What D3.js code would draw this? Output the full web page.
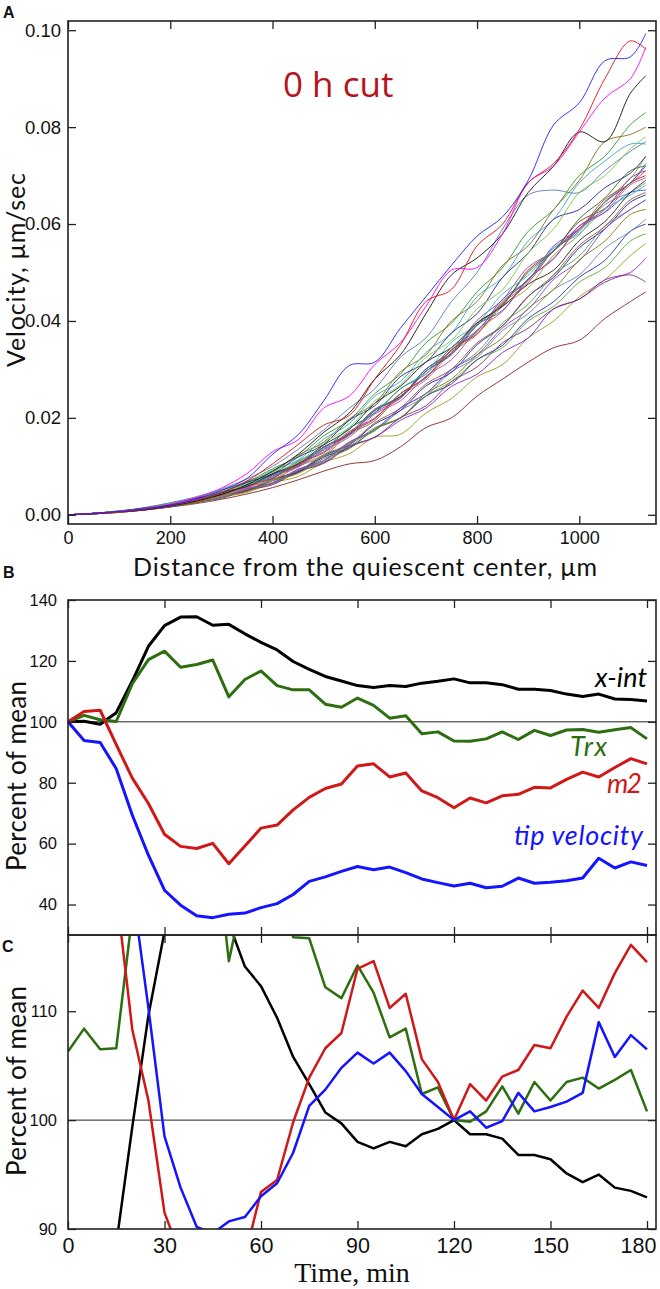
<!DOCTYPE html>
<html><head><meta charset="utf-8">
<script src="https://cdn.jsdelivr.net/npm/d3@7"></script>
<style>body{margin:0;background:#fff}svg{display:block}</style>
</head><body>
<svg id="chart" width="660" height="1289"></svg>
<script>
// ---------------- Panel A data (velocity in 1e-3 µm/sec) ----------------
const distance = [0,50,100,150,200,250,300,350,400,450,500,550,600,650,700,750,800,850,900,950,1000,1050,1100,1130];
const velTicks = [0,0.02,0.04,0.06,0.08,0.10];
const distTicks = [0,200,400,600,800,1000];

const vBlueTop    = [0,.3,.7,1.2,2.0,3.2,5.0,7.5,12.5,16.5,23.5,30.8,31.5,38.5,45,51.5,57.5,61.5,69,80.5,85,93.7,94.5,99.3];
const vRedTop     = [0,.3,.6,1.1,2.0,3.0,4.6,7,10.5,14.5,18.5,20.5,28,35,44,46.5,55.5,60,68.5,72.5,79.5,90,97.8,96.1];
const vMagentaTop = [0,.3,.7,1.3,2.2,3.5,5.5,8.5,13,15.5,22,24.5,31,35.5,43,50.5,51,58,68.5,72,79,86,90,96.5];
const vBlackTop   = [0,.2,.6,1.0,1.8,2.8,4.2,6.2,9,12.5,17,21,28,33,41.5,49.5,53,58,66.5,72,79,77,87,90.6];
const vH1 = [0,.3,.8,1.5,2.5,3.7,5.3,7.4,10,13.5,17.5,22,26,32.5,36.5,44,50,59,66,67,66.5,71,75,77];
const vH2 = [0,.3,.8,1.4,2.4,3.4,5.1,6.8,9.5,12,16.3,19.5,25,29,35.5,39.5,46,51,58.5,63,70,74,80.5,83];
const vH3 = [0,.3,.7,1.4,2.2,3.5,4.7,6.9,8.8,12.3,15,19.8,23,29.5,33,40,44,51.5,55.5,63,69,77,78.5,80];
const vH4 = [0,.3,.8,1.3,2.4,3.3,5.1,6.5,9.2,11.3,15.6,18.8,24.5,27.5,33.5,37.5,45,49,56.5,61,68.5,73,76.5,76.5];
const vH5 = [0,.3,.7,1.4,2.1,3.4,4.5,6.7,8.4,11.9,14.5,19.5,22.5,28.5,31.5,37.5,41.5,49,54,61,63,67.5,70.5,74];
const vH6 = [0,.3,.7,1.2,2.3,3.1,4.8,6.1,8.8,10.8,14.9,18,23.5,26.8,32.5,36,42.5,46.5,54,59,66.5,70,75.5,78];
const vM1 = [0,.2,.6,1.2,1.9,3.1,4.0,6.0,7.5,10.6,12.8,16.9,19.8,25,28.2,34,37.8,44.5,48.5,55.5,59,64.5,68.5,72];
const vM2 = [0,.3,.7,1.3,2.2,3.0,4.6,5.8,8.3,10.1,13.9,16.5,21.5,24.2,30,33.8,39.5,43.2,50.5,54.5,60.5,63.2,68.5,70];
const vM3 = [0,.2,.6,1.1,1.8,2.9,3.8,5.7,7.1,10,12.1,16.5,19.4,24.6,27.8,33.5,37.2,44,48.3,55,58.8,64,66.6,68.5];
const vM4 = [0,.3,.7,1.2,2.1,2.9,4.5,5.7,8.2,10,13.9,16.4,21.6,24.3,30.1,33.2,39.2,42.2,48.7,52.8,59.6,62.4,66.5,67];
const vM5 = [0,.2,.6,1.2,1.9,3.0,3.9,5.8,7.2,10.2,12.4,16.7,19.4,25,28.3,34,37.3,43.1,46.8,53.6,57.8,64.6,69.4,74];
const vM6 = [0,.3,.7,1.3,2.2,3.0,4.6,5.8,8.4,10.3,14,16.8,21.8,24.4,29.6,33,39.1,43.4,50.1,54.4,61.1,65.4,71,72];
const vM7 = [0,.3,.7,1.2,2.1,2.9,4.5,5.8,8.4,10.3,14,16.6,21.1,24,29.6,33.4,40.1,44.4,51.1,54.4,59.6,63,69.5,71];
const vM8 = [0,.3,.7,1.3,2.1,3.3,4.3,6.4,8,11.2,13.6,17.9,21,26,29.4,35.6,39.4,45.6,49.4,55.1,58,63.1,66,68];
const vM9 = [0,.3,.7,1.3,2.3,3.1,4.7,5.9,8.5,10.5,14.4,17.6,23,26.5,31.5,34.5,39.6,43,47.6,50.5,56.6,60.5,66.5,69];
const vM10 = [0,.3,.7,1.2,1.9,3.1,4.1,6.1,7.6,10.7,13,17.2,20,25,28.4,34.1,37.4,43.6,47.9,54.6,58.9,65.1,68.4,71];
const vM11 = [0,.2,.6,1.2,2.1,2.8,4.3,5.5,8,9.8,13.4,16,20.8,23.5,28.6,32,38.1,42,48.6,53,59.1,62.5,68.1,69.5];
const vM12 = [0,.3,.7,1.3,2.0,3.2,4.2,6.2,7.8,11,13.4,17.8,21,26,29,34.5,38,44,48.5,54.6,58.5,64.6,68.5,72.5];
const vN1 = [0,.2,.6,1.1,1.9,2.6,4.0,5.0,7.3,8.9,12.2,14.4,18.7,21.5,26.6,29.4,35.1,39,45.1,49,55.1,59,64.5,66];
const vN2 = [0,.2,.6,1.1,1.7,2.7,3.5,5.3,6.5,9.2,11,14.8,17.3,22,25,30,33.5,39.6,43.4,49.6,53.4,59.6,63,65];
const vN3 = [0,.2,.6,1.1,2.0,2.7,4.1,5.1,7.4,9,12.4,14.6,19,22,27,30,35.5,39,45,49.5,55.6,59.5,65,66.5];
const vN4 = [0,.2,.6,1.1,1.7,2.8,3.6,5.4,6.6,9.4,11.2,15,17.6,22,25,30,33,38.6,42.4,48.6,52.4,59,63,65];
const vN5 = [0,.2,.5,1.0,1.8,2.5,3.8,4.8,7,8.5,11.6,13.6,17.7,20,25,28,33,36.5,42.6,46.5,52.6,56.5,62,63];
const vL1 = [0,.2,.5,1.0,1.6,2.3,3.2,4.3,5.6,7.2,9.0,10.5,11.2,14,18,20,24.5,28,31.5,34.5,36,40.5,44,46];
const vL2 = [0,.2,.5,1.0,1.8,2.4,3.7,4.6,6.6,7.9,10.8,12.6,16,16.6,21,24,28.5,31,36.5,40,45,48.5,53.5,56];
const vL3 = [0,.2,.6,1.1,1.7,2.7,3.5,5.2,6.4,9.1,10.8,14.2,16,19.5,22,26.5,29,33.5,36.5,42.5,44.5,48.5,50,53];
const vL4 = [0,.2,.6,1.1,1.9,2.6,4.0,5.0,7.3,8.9,12,14.1,18,20,24.5,27.5,32,34.5,40,43,48,51,56.5,58];
const vL5 = [0,.2,.5,1.0,1.6,2.6,3.4,5.1,6.2,8.9,10.6,14,16,20,22.5,27.5,30.5,35.5,38.5,42.5,44.5,48,49.5,48];
const vL6 = [0,.2,.6,1.1,1.9,2.5,3.9,4.9,7.1,8.7,11.9,13.8,17.7,20,24.5,27,32,35,40.5,44,49,52.5,58.5,60];
const vL7 = [0,.2,.6,1.1,1.7,2.8,3.6,5.4,6.6,9.4,11.2,15,17.4,21.5,24.5,29.5,32.5,38,41.5,46.5,49.5,55,58.5,61];

const curveSeries = [vL1,vL2,vL3,vL4,vL5,vL6,vL7,vN1,vN2,vN3,vN4,vN5,vM1,vM2,vM3,vM4,vM5,vM6,vM7,vM8,vM9,vM10,vM11,vM12,vH1,vH2,vH3,vH4,vH5,vH6,vBlackTop,vMagentaTop,vRedTop,vBlueTop];
const curveColors = ["#8b2323","#9a9a20","#8020e0","#55b030","#803060","#3030a0","#6688aa",
  "#1a1ab0","#4aa84a","#a0522d","#8a3ae8","#7a7a10",
  "#7a20d8","#8b2b1b","#8a8a8a","#3050e0","#9a9a28","#2f6f1f","#a035a0","#38bcbc","#202020","#d83030","#c84890","#258585",
  "#5a78b8","#2a9a2a","#8b6a14","#3aa6c6","#25258a","#78c840",
  "#111111","#ff00ff","#e01010","#2020ff"];

// ---------------- Panel B / C data ----------------
const timeMin = [0,5,10,15,20,25,30,35,40,45,50,55,60,65,70,75,80,85,90,95,100,105,110,115,120,125,130,135,140,145,150,155,160,165,170,175,180];
const xIntB = [100,100.2,99.2,103,113.4,124.8,131.6,134.4,134.5,131.7,132.0,128.9,126.1,123.6,119.8,117.2,114.9,113.4,111.9,111.3,111.9,111.6,112.7,113.3,114.1,112.8,112.8,112.2,110.7,110.7,110.3,109.1,108.3,109.1,107.5,107.3,106.8];
const trxB  = [100,102.1,100.7,100.1,112.5,120.4,123.2,117.9,118.8,120.3,108.2,113.9,116.7,111.9,110.5,110.5,105.8,104.8,107.8,105.4,101.2,102.0,96.1,96.7,93.7,93.6,94.4,96.7,94.2,97.2,95.5,97.3,97.5,96.6,97.4,98.1,94.4];
const m2B   = [100,103.4,103.8,92.5,81.5,73.2,63.1,59.1,58.4,60.1,53.4,59.2,65.1,66.1,71.1,75.2,78.1,79.6,85.5,86.2,81.9,83.2,77.3,75.1,71.8,75.0,73.4,75.7,76.2,78.5,78.3,81.1,83.5,81.9,85.0,87.9,86.2];
const tipB  = [100,93.9,93.2,84.6,69.3,56.2,44.7,39.8,36.3,35.7,36.8,37.2,39.0,40.3,43.3,47.6,49.1,50.9,52.5,51.4,52.3,50.5,48.4,47.2,46.1,47.0,45.5,46.0,48.7,47.0,47.3,47.8,48.7,55.2,52.0,54.0,52.8];

const xIntC = [87.6,87.8,87.0,88.6,99.4,109.6,117.3,119,119,118.5,118.1,114.1,112.3,109.4,105.8,103.3,100.7,99.7,98.0,97.4,98.0,97.6,98.7,99.2,100,98.7,98.7,98.3,96.8,96.8,96.4,95.1,94.3,95.0,93.8,93.5,92.9];
const trxC  = [106.3,108.4,106.5,106.6,118.9,125,127,121,122,128,114.6,121.5,122,122,116.8,116.7,112.2,111.2,114.2,111.7,107.6,108.4,102.4,103.0,100,99.85,100.8,103.1,100.6,103.5,101.8,103.5,103.9,102.9,103.7,104.6,100.8];
const m2C   = [139,144,144.5,121,108.3,101.8,91.5,87.6,81,83,75,87.5,93.4,94.5,99.8,103.9,106.6,108.0,113.9,114.6,110.3,111.6,105.6,103.5,100,103.3,101.8,104.0,104.6,106.9,106.6,109.5,111.9,110.3,113.5,116.1,114.5];
const tipC  = [217,204,202,184,121.3,110.3,98.5,93.8,90.2,89.6,90.7,91.1,93.0,94.2,97.0,101.3,102.8,104.8,106.2,105.2,106.2,104.5,102.4,101.2,100,100.8,99.3,99.9,102.5,100.8,101.2,101.7,102.5,109.0,105.8,107.8,106.5];

const pctTicksB = [40,60,80,100,120,140];
const pctTicksC = [90,100,110];
const timeTicks = [0,30,60,90,120,150,180];

const seriesNamesB = ["x-int","Trx","m2","tip velocity"];
const seriesColors = ["#000000","#2c6e10","#d01818","#1414ff"];

// ---------------- Drawing ----------------
const svg = d3.select("#chart");
const L = 68, R = 656;
const tickFontA = "'Liberation Sans Narrow','Arial Narrow','Liberation Sans',sans-serif";
const titleFont = "Lato, 'Noto Sans', sans-serif";

function styleAxis(g, font, size) {
  g.select(".domain").remove();
  g.selectAll(".tick line").attr("stroke", "#222").attr("stroke-width", 1.3);
  g.selectAll(".tick text").attr("font-family", font).attr("font-size", size).attr("fill", "#111");
}

// ---- Panel A ----
const xA = d3.scaleLinear().domain([0, 1150]).range([L, R]);
const yA = d3.scaleLinear().domain([-0.0019, 0.1019]).range([524, 21]);

const lineA = d3.line().x((d, i) => xA(distance[i])).y(d => yA(d / 1000)).curve(d3.curveCatmullRom.alpha(0.5));
svg.append("g").selectAll("path").data(curveSeries).join("path")
  .attr("d", d => lineA(d))
  .attr("fill", "none")
  .attr("stroke", (d, i) => curveColors[i])
  .attr("stroke-width", 0.9);

svg.append("g").attr("transform", `translate(${L},0)`)
  .call(d3.axisLeft(yA).tickValues(velTicks).tickFormat(d3.format(".2f")).tickSizeInner(-8).tickSizeOuter(0).tickPadding(7))
  .call(g => styleAxis(g, tickFontA, 18.5));
svg.append("g").attr("transform", `translate(${R},0)`)
  .call(d3.axisRight(yA).tickValues(velTicks).tickFormat("").tickSizeInner(-8).tickSizeOuter(0))
  .call(g => styleAxis(g, tickFontA, 18.5));
svg.append("g").attr("transform", `translate(0,524)`)
  .call(d3.axisBottom(xA).tickValues(distTicks).tickFormat(d3.format("d")).tickSizeInner(-8).tickSizeOuter(0).tickPadding(7))
  .call(g => styleAxis(g, tickFontA, 18));
svg.append("g").attr("transform", `translate(0,21)`)
  .call(d3.axisTop(xA).tickValues(distTicks).tickFormat("").tickSizeInner(-8).tickSizeOuter(0))
  .call(g => styleAxis(g, tickFontA, 18.5));
svg.append("rect").attr("x", L).attr("y", 21).attr("width", R - L).attr("height", 524 - 21)
  .attr("fill", "none").attr("stroke", "#222").attr("stroke-width", 1.6);

svg.append("text").attr("x", 283).attr("y", 97).text("0 h cut")
  .attr("font-family", "'Open Sans', sans-serif").attr("font-size", 35).attr("fill", "#b5141b");
svg.append("text").attr("transform", "translate(25,270) rotate(-90)").attr("text-anchor", "middle")
  .text("Velocity, μm/sec").attr("font-family", titleFont).attr("font-size", 25).attr("fill", "#111")
  .attr("textLength", 194).attr("lengthAdjust", "spacing");
svg.append("text").attr("x", 365).attr("y", 576).attr("text-anchor", "middle")
  .text("Distance from the quiescent center, μm").attr("font-family", titleFont).attr("font-size", 25).attr("fill", "#111")
  .attr("textLength", 464).attr("lengthAdjust", "spacing");

// ---- Panel B ----
const xB = d3.scaleLinear().domain([0, 182.8]).range([L, R]);
const yB = d3.scaleLinear().domain([30, 140]).range([935, 600]);
const tickFontB = tickFontA;

svg.append("line").attr("x1", L).attr("x2", R).attr("y1", yB(100)).attr("y2", yB(100)).attr("stroke", "#222").attr("stroke-width", 1);
const lineB = d3.line().x((d, i) => xB(timeMin[i])).y(d => yB(d));
svg.append("g").selectAll("path").data([xIntB, trxB, m2B, tipB]).join("path")
  .attr("d", d => lineB(d)).attr("fill", "none")
  .attr("stroke", (d, i) => seriesColors[i]).attr("stroke-width", 3).attr("stroke-linejoin", "round");

svg.append("g").attr("transform", `translate(${L},0)`)
  .call(d3.axisLeft(yB).tickValues(pctTicksB).tickSizeInner(-8).tickSizeOuter(0).tickPadding(11))
  .call(g => styleAxis(g, tickFontB, 16.5));
svg.append("g").attr("transform", `translate(${R},0)`)
  .call(d3.axisRight(yB).tickValues(pctTicksB).tickFormat("").tickSizeInner(-8).tickSizeOuter(0))
  .call(g => styleAxis(g, tickFontB, 16));
svg.append("g").attr("transform", `translate(0,600)`)
  .call(d3.axisTop(xB).tickValues(timeTicks).tickFormat("").tickSizeInner(-8).tickSizeOuter(0))
  .call(g => styleAxis(g, tickFontB, 16));
svg.append("g").attr("transform", `translate(0,935)`)
  .call(d3.axisBottom(xB).tickValues(timeTicks).tickFormat("").tickSizeInner(-8).tickSizeOuter(0))
  .call(g => styleAxis(g, tickFontB, 16));
svg.append("rect").attr("x", L).attr("y", 600).attr("width", R - L).attr("height", 935 - 600)
  .attr("fill", "none").attr("stroke", "#222").attr("stroke-width", 1.6);

const legendPos = [[647, 687], [607, 756], [642, 793], [643, 845]];
const legendLen = [52, 37, 35, 129];
svg.append("g").selectAll("text").data(seriesNamesB).join("text")
  .attr("x", (d, i) => legendPos[i][0]).attr("y", (d, i) => legendPos[i][1])
  .attr("text-anchor", "end").attr("font-family", titleFont).attr("font-style", "italic")
  .attr("font-size", 27).attr("fill", (d, i) => seriesColors[i])
  .attr("textLength", (d, i) => legendLen[i]).attr("lengthAdjust", "spacing").text(d => d);

svg.append("text").attr("transform", "translate(26,776) rotate(-90)").attr("text-anchor", "middle")
  .text("Percent of mean").attr("font-family", titleFont).attr("font-size", 26).attr("fill", "#111")
  .attr("textLength", 190).attr("lengthAdjust", "spacing");

// ---- Panel C ----
const yC = d3.scaleLinear().domain([90, 117]).range([1229, 935]);
svg.append("clipPath").attr("id", "clipC").append("rect")
  .attr("x", L).attr("y", 935).attr("width", R - L).attr("height", 1229 - 935);
svg.append("line").attr("x1", L).attr("x2", R).attr("y1", yC(100)).attr("y2", yC(100)).attr("stroke", "#222").attr("stroke-width", 1);
const lineC = d3.line().x((d, i) => xB(timeMin[i])).y(d => yC(d));
svg.append("g").attr("clip-path", "url(#clipC)").selectAll("path").data([xIntC, trxC, m2C, tipC]).join("path")
  .attr("d", d => lineC(d)).attr("fill", "none")
  .attr("stroke", (d, i) => seriesColors[i]).attr("stroke-width", 2.5).attr("stroke-linejoin", "round");

svg.append("g").attr("transform", `translate(${L},0)`)
  .call(d3.axisLeft(yC).tickValues(pctTicksC).tickSizeInner(-8).tickSizeOuter(0).tickPadding(11))
  .call(g => styleAxis(g, tickFontB, 16.5));
svg.append("g").attr("transform", `translate(${R},0)`)
  .call(d3.axisRight(yC).tickValues(pctTicksC).tickFormat("").tickSizeInner(-8).tickSizeOuter(0))
  .call(g => styleAxis(g, tickFontB, 16));
svg.append("g").attr("transform", `translate(0,935)`)
  .call(d3.axisTop(xB).tickValues(timeTicks).tickFormat("").tickSizeInner(-8).tickSizeOuter(0))
  .call(g => styleAxis(g, tickFontB, 16));
svg.append("g").attr("transform", `translate(0,1229)`)
  .call(d3.axisBottom(xB).tickValues(timeTicks).tickSizeInner(-8).tickSizeOuter(0).tickPadding(9))
  .call(g => styleAxis(g, "'Liberation Sans', Arial, sans-serif", 21.5))
  .call(g => g.selectAll(".tick text").filter(d => d === 180).attr("dx", -9));
svg.append("rect").attr("x", L).attr("y", 935).attr("width", R - L).attr("height", 1229 - 935)
  .attr("fill", "none").attr("stroke", "#222").attr("stroke-width", 1.6);

svg.append("text").attr("transform", "translate(26,1081) rotate(-90)").attr("text-anchor", "middle")
  .text("Percent of mean").attr("font-family", titleFont).attr("font-size", 26).attr("fill", "#111")
  .attr("textLength", 190).attr("lengthAdjust", "spacing");
svg.append("text").attr("x", 352).attr("y", 1282).attr("text-anchor", "middle")
  .text("Time, min").attr("font-family", "'Liberation Serif', 'Times New Roman', serif").attr("font-size", 28).attr("fill", "#111");

// ---- Panel letters ----
const panelLetters = [["A", 3, 18], ["B", 3, 578], ["C", 2, 952]];
svg.append("g").selectAll("text").data(panelLetters).join("text")
  .attr("x", d => d[1]).attr("y", d => d[2]).text(d => d[0])
  .attr("font-family", "'Liberation Sans', Arial, sans-serif").attr("font-weight", "bold").attr("font-size", 16).attr("fill", "#111");
</script>
</body></html>
